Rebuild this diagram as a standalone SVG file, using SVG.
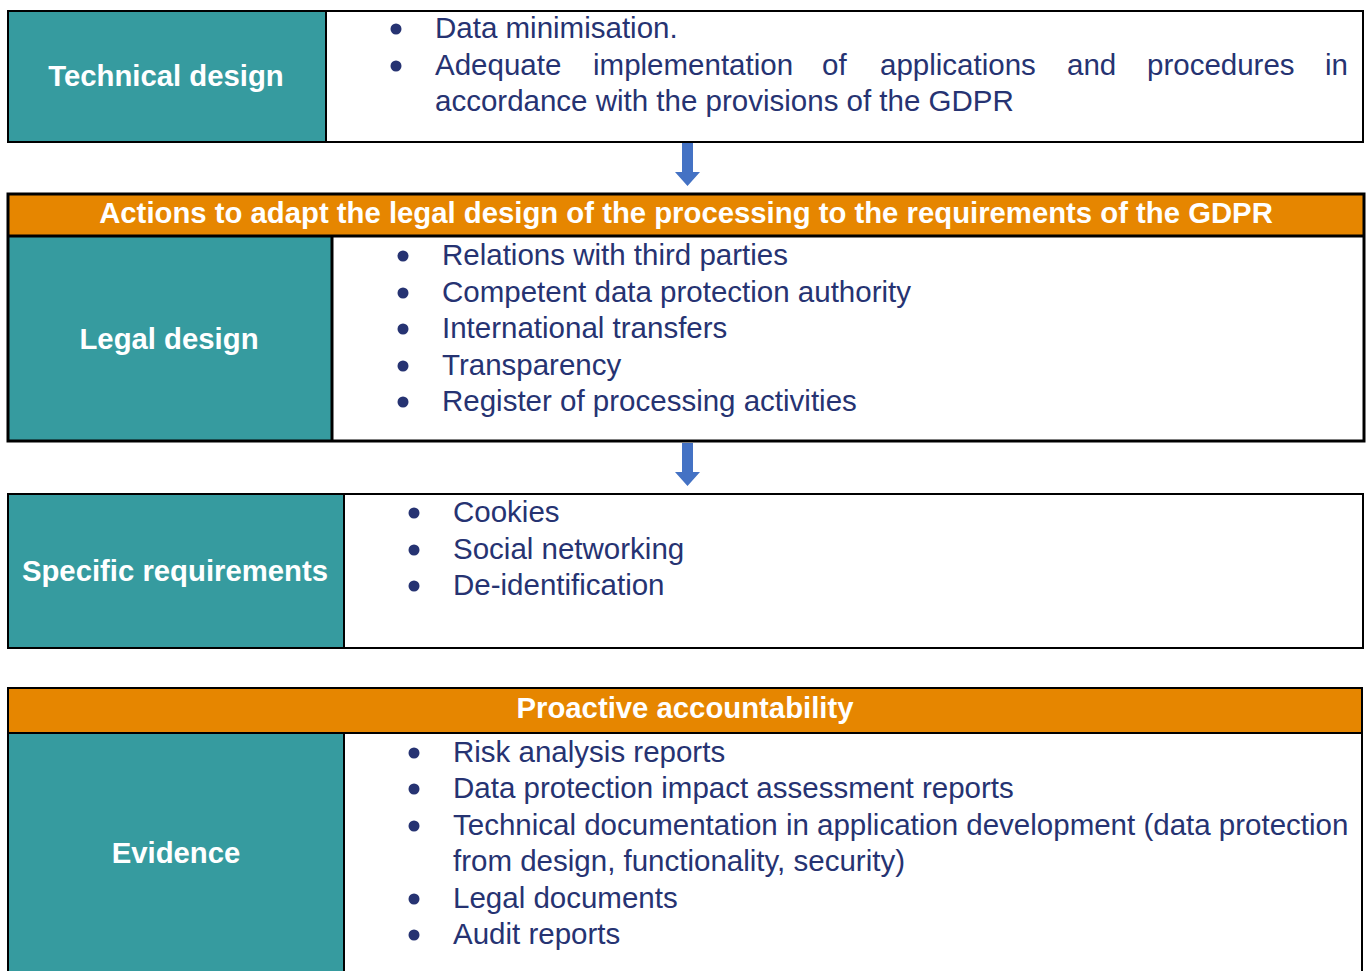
<svg xmlns="http://www.w3.org/2000/svg" width="1368" height="971" viewBox="0 0 1368 971">
<style>
.teal{fill:#369b9f}
.orange{fill:#e68600}
.frame{fill:none;stroke:#000;stroke-width:2}
.thick{stroke-width:3}
.lbl{font-family:"Liberation Sans",Arial,sans-serif;font-weight:bold;font-size:29.3px;fill:#fff;text-anchor:middle}
.item{font-family:"Liberation Sans",Arial,sans-serif;font-size:29.5px;fill:#263372}
.dot{fill:#263372}
.arrow{fill:#4472c4}
</style>
<rect width="1368" height="971" fill="#fff"/>

<g id="technical-design">
<rect x="8" y="11" width="318" height="131" class="teal"/>
<rect x="8" y="11" width="1355" height="131" class="frame"/>
<line x1="326" y1="11" x2="326" y2="142" stroke="#000" stroke-width="2"/>
<text x="166" y="86" class="lbl">Technical design</text>
<circle cx="396" cy="29" r="5.5" class="dot"/>
<text x="435" y="38" class="item">Data minimisation.</text>
<circle cx="396" cy="66" r="5.5" class="dot"/>
<text y="75" class="item"><tspan x="435">Adequate</tspan><tspan x="593">implementation</tspan><tspan x="822">of</tspan><tspan x="880">applications</tspan><tspan x="1067">and</tspan><tspan x="1147">procedures</tspan><tspan x="1325">in</tspan></text>
<text x="435" y="111" class="item">accordance with the provisions of the GDPR</text>
</g>

<g id="legal-design">
<rect x="8" y="194" width="1356" height="42" class="orange"/>
<rect x="8" y="236" width="324" height="205" class="teal"/>
<rect x="8" y="194" width="1356" height="247" class="frame thick"/>
<line x1="8" y1="236" x2="1364" y2="236" stroke="#000" stroke-width="3"/>
<line x1="332" y1="236" x2="332" y2="441" stroke="#000" stroke-width="3"/>
<text x="686" y="223" class="lbl">Actions to adapt the legal design of the processing to the requirements of the GDPR</text>
<text x="169" y="349" class="lbl">Legal design</text>
<circle cx="403" cy="256" r="5.5" class="dot"/>
<text x="442" y="265" class="item">Relations with third parties</text>
<circle cx="403" cy="293" r="5.5" class="dot"/>
<text x="442" y="302" class="item">Competent data protection authority</text>
<circle cx="403" cy="329" r="5.5" class="dot"/>
<text x="442" y="338" class="item">International transfers</text>
<circle cx="403" cy="366" r="5.5" class="dot"/>
<text x="442" y="375" class="item">Transparency</text>
<circle cx="403" cy="402" r="5.5" class="dot"/>
<text x="442" y="411" class="item">Register of processing activities</text>
</g>

<g id="specific-requirements">
<rect x="8" y="494" width="336" height="154" class="teal"/>
<rect x="8" y="494" width="1355" height="154" class="frame"/>
<line x1="344" y1="494" x2="344" y2="648" stroke="#000" stroke-width="2"/>
<text x="175" y="581" class="lbl">Specific requirements</text>
<circle cx="414" cy="513" r="5.5" class="dot"/>
<text x="453" y="522" class="item">Cookies</text>
<circle cx="414" cy="550" r="5.5" class="dot"/>
<text x="453" y="559" class="item">Social networking</text>
<circle cx="414" cy="586" r="5.5" class="dot"/>
<text x="453" y="595" class="item">De-identification</text>
</g>

<g id="evidence">
<rect x="8" y="688" width="1354" height="45" class="orange"/>
<rect x="8" y="733" width="336" height="245" class="teal"/>
<rect x="8" y="688" width="1354" height="290" class="frame"/>
<line x1="8" y1="733" x2="1362" y2="733" stroke="#000" stroke-width="2"/>
<line x1="344" y1="733" x2="344" y2="978" stroke="#000" stroke-width="2"/>
<text x="685" y="718" class="lbl">Proactive accountability</text>
<text x="176" y="863" class="lbl">Evidence</text>
<circle cx="414" cy="753" r="5.5" class="dot"/>
<text x="453" y="762" class="item">Risk analysis reports</text>
<circle cx="414" cy="789" r="5.5" class="dot"/>
<text x="453" y="798" class="item">Data protection impact assessment reports</text>
<circle cx="414" cy="826" r="5.5" class="dot"/>
<text x="453" y="835" class="item">Technical documentation in application development (data protection</text>
<text x="453" y="871" class="item">from design, functionality, security)</text>
<circle cx="414" cy="899" r="5.5" class="dot"/>
<text x="453" y="908" class="item">Legal documents</text>
<circle cx="414" cy="935" r="5.5" class="dot"/>
<text x="453" y="944" class="item">Audit reports</text>
</g>

<g id="connectors">
<path class="arrow" d="M682,143 H693 V172 H700 L687.5,186 L675,172 H682 Z"/>
<path class="arrow" d="M682,443 H693 V472 H700 L687.5,486 L675,472 H682 Z"/>
</g>
</svg>
